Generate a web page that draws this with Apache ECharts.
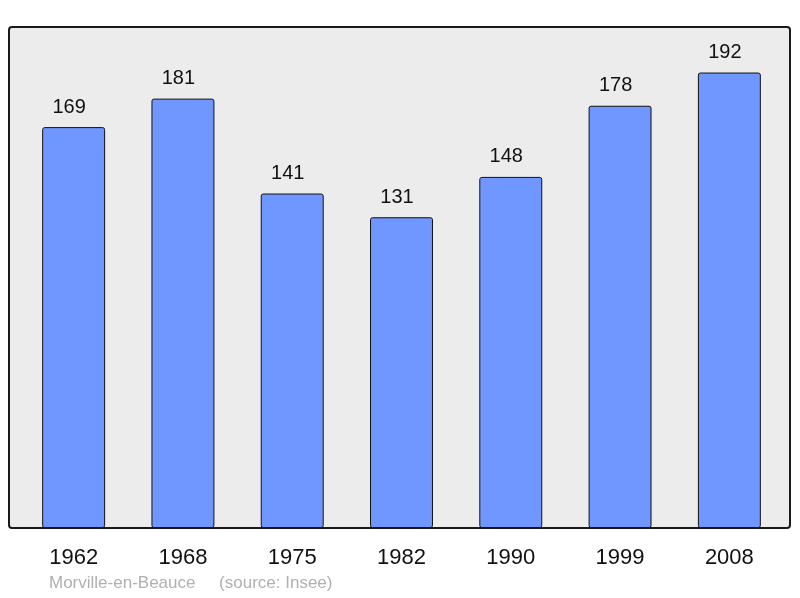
<!DOCTYPE html>
<html><head><meta charset="utf-8">
<script src="https://cdn.jsdelivr.net/npm/echarts@6/dist/echarts.min.js"></script>
<style>html,body{margin:0;padding:0;background:#fff}#c{width:800px;height:598px}</style>
</head><body><div id="c"></div>
<script>
var categories = ['1962','1968','1975','1982','1990','1999','2008'];
var values = [169,181,141,131,148,178,192];
var footer = 'Morville-en-Beauce     (source: Insee)';

var chart = echarts.init(document.getElementById('c'), null, {renderer:'canvas'});
chart.setOption({
  animation: false,
  graphic: [
    {type:'rect', z:-10, shape:{x:9,y:27,width:781,height:501,r:3},
     style:{fill:'#ececec', stroke:'#1a1a1a', lineWidth:2}},
    {type:'text', left:49, top:575, style:{text:footer, fill:'#b0b0b0', font:'17px "Liberation Sans", Arial, sans-serif'}}
  ],
  grid: {left:19, right:16, top:27, bottom:70},
  xAxis: {type:'category', data:categories,
    axisLine:{show:false}, axisTick:{show:false},
    axisLabel:{color:'#111', fontSize:22, fontFamily:'"Liberation Sans", Arial, sans-serif', margin:19}},
  yAxis: {type:'value', min:0, max:211.2, show:false, splitLine:{show:false}},
  series: [{type:'bar', data:values, barWidth:'57.6%',
    itemStyle:{color:'#7097ff', borderColor:'#111', borderWidth:1, borderRadius:2},
    label:{show:true, position:'top', distance:10, offset:[-4.5,0], color:'#111', fontSize:20,
      fontFamily:'"Liberation Sans", Arial, sans-serif'}}]
});
</script></body></html>
